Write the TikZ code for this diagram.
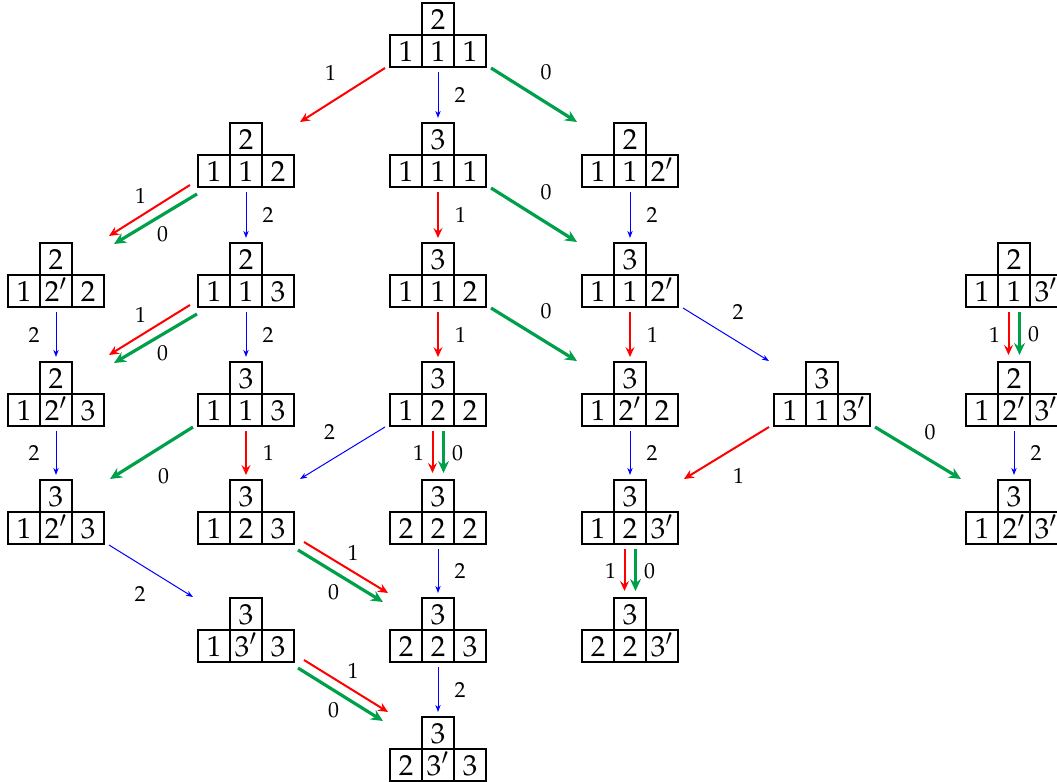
\documentclass[tikz,border=0pt]{standalone}
\usepackage[T1]{fontenc}
\usepackage{mathpazo}
\usetikzlibrary{arrows.meta,positioning}
\definecolor{grn}{RGB}{0,160,75}
\newcommand{\yt}[6]{%
  \node[frame] (#1) at #2 {};
  \node[cell,anchor=north] (#1t) at (#1.north) {$#3$};
  \node[cell,anchor=south] (#1m) at (#1.south) {$#5$};
  \node[cell,left=0pt of #1m] (#1l) {$#4$};
  \node[cell,right=0pt of #1m] (#1r) {$#6$};}
\begin{document}
\begin{tikzpicture}[x=0.5pt,y=-0.5pt,
  frame/.style={minimum width=48pt,minimum height=32pt,inner sep=0pt,outer sep=0pt},
  cell/.style={draw,line width=1.2pt,minimum size=16pt,inner sep=0pt,outer sep=0pt,
    text height=10pt,text depth=0pt,font=\fontsize{14.5}{17}\selectfont},
  lbl/.style={font=\fontsize{10.9}{13}\selectfont,inner sep=0pt},
  arr1/.style={draw=red,line width=1pt,-{Stealth[length=5pt,width=4.5pt,inset=1.8pt]}},
  arr0/.style={draw=grn,line width=1.6pt,-{Stealth[length=6pt,width=5.5pt,inset=2pt]}},
  arr2/.style={draw=blue,line width=0.5pt,-{Stealth[length=3.5pt,width=2.6pt,inset=1pt]}},
  vert/.style={shorten <=2.5pt,shorten >=2.5pt},
  vert2/.style={shorten <=2.5pt,shorten >=3.5pt}]
  \useasboundingbox (0,0) rectangle (1057,782);

  \yt{A}{(438,35)}{2}{1}{1}{1}
  \yt{B1}{(246,155)}{2}{1}{1}{2}
  \yt{B2}{(438,155)}{3}{1}{1}{1}
  \yt{B3}{(630,155)}{2}{1}{1}{2'}
  \yt{C1}{(56,275)}{2}{1}{2'}{2}
  \yt{C2}{(246,275)}{2}{1}{1}{3}
  \yt{C3}{(438,275)}{3}{1}{1}{2}
  \yt{C4}{(630,275)}{3}{1}{1}{2'}
  \yt{C5}{(1014,275)}{2}{1}{1}{3'}
  \yt{D1}{(56,394)}{2}{1}{2'}{3}
  \yt{D2}{(246,394)}{3}{1}{1}{3}
  \yt{D3}{(438,394)}{3}{1}{2}{2}
  \yt{D4}{(630,394)}{3}{1}{2'}{2}
  \yt{D5}{(822,394)}{3}{1}{1}{3'}
  \yt{D6}{(1014,394)}{2}{1}{2'}{3'}
  \yt{E1}{(56,512)}{3}{1}{2'}{3}
  \yt{E2}{(246,512)}{3}{1}{2}{3}
  \yt{E3}{(438,512)}{3}{2}{2}{2}
  \yt{E4}{(630,512)}{3}{1}{2}{3'}
  \yt{E5}{(1014,512)}{3}{1}{2'}{3'}
  \yt{F2}{(246,630)}{3}{1}{3'}{3}
  \yt{F3}{(438,630)}{3}{2}{2}{3}
  \yt{F4}{(630,630)}{3}{2}{2}{3'}
  \yt{G3}{(438,749)}{3}{2}{3'}{3}

  \draw[arr1] ([shift={(-5,1)}]A.south west) -- ([shift={(6,-1)}]B1.north east) node[lbl,midway,shift={(-12,-22)}] {1};
  \draw[arr2,vert] (A.south) -- (B2.north) node[lbl,midway,right=8pt] {2};
  \draw[arr0] ([shift={(5,1)}]A.south east) -- ([shift={(-5,-1)}]B3.north west) node[lbl,midway,shift={(12,-23)}] {0};

  \draw[arr1] ([shift={(-8,-2)}]B1.south west) -- ([shift={(5,-7)}]C1.north east) node[lbl,midway,shift={(-9,-15)}] {1};
  \draw[arr0] ([shift={(-1,7)}]B1.south west) -- ([shift={(10,1)}]C1.north east) node[lbl,midway,shift={(7,15)}] {0};
  \draw[arr2,vert] (B1.south) -- (C2.north) node[lbl,midway,right=8pt] {2};
  \draw[arr1,vert] (B2.south) -- (C3.north) node[lbl,midway,right=8pt] {1};
  \draw[arr0] ([shift={(5,1)}]B2.south east) -- ([shift={(-5,-1)}]C4.north west) node[lbl,midway,shift={(12,-23)}] {0};
  \draw[arr2,vert] (B3.south) -- (C4.north) node[lbl,midway,right=8pt] {2};

  \draw[arr2,vert] (C1.south) -- (D1.north) node[lbl,midway,left=8pt] {2};
  \draw[arr1] ([shift={(-8,-2)}]C2.south west) -- ([shift={(5,-7)}]D1.north east) node[lbl,midway,shift={(-9,-15)}] {1};
  \draw[arr0] ([shift={(-1,7)}]C2.south west) -- ([shift={(10,1)}]D1.north east) node[lbl,midway,shift={(7,15)}] {0};
  \draw[arr2,vert] (C2.south) -- (D2.north) node[lbl,midway,right=8pt] {2};
  \draw[arr1,vert] (C3.south) -- (D3.north) node[lbl,midway,right=8pt] {1};
  \draw[arr0] ([shift={(5,1)}]C3.south east) -- ([shift={(-5,-1)}]D4.north west) node[lbl,midway,shift={(12,-23)}] {0};
  \draw[arr1,vert] (C4.south) -- (D4.north) node[lbl,midway,right=8pt] {1};
  \draw[arr2] ([shift={(5,1)}]C4.south east) -- ([shift={(-5,-1)}]D5.north west) node[lbl,midway,shift={(12,-23)}] {2};
  \draw[arr1,vert2] ([xshift=-2.75pt]C5.south) -- ([xshift=-2.75pt]D6.north) node[lbl,midway,left=3.8pt] {1};
  \draw[arr0,vert2] ([xshift=2.75pt]C5.south) -- ([xshift=2.75pt]D6.north) node[lbl,midway,right=3.5pt] {0};

  \draw[arr2,vert] (D1.south) -- (E1.north) node[lbl,midway,left=8pt] {2};
  \draw[arr0] ([shift={(-5,1)}]D2.south west) -- ([shift={(6,-1)}]E1.north east) node[lbl,midway,shift={(12,23)}] {0};
  \draw[arr1,vert] (D2.south) -- (E2.north) node[lbl,midway,right=8pt] {1};
  \draw[arr2] ([shift={(-5,1)}]D3.south west) -- ([shift={(6,-1)}]E2.north east) node[lbl,midway,shift={(-13,-21)}] {2};
  \draw[arr1,vert2] ([xshift=-2.75pt]D3.south) -- ([xshift=-2.75pt]E3.north) node[lbl,midway,left=3.8pt] {1};
  \draw[arr0,vert2] ([xshift=2.75pt]D3.south) -- ([xshift=2.75pt]E3.north) node[lbl,midway,right=3.5pt] {0};
  \draw[arr2,vert] (D4.south) -- (E4.north) node[lbl,midway,right=8pt] {2};
  \draw[arr1] ([shift={(-5,1)}]D5.south west) -- ([shift={(6,-1)}]E4.north east) node[lbl,midway,shift={(12,23)}] {1};
  \draw[arr0] ([shift={(5,1)}]D5.south east) -- ([shift={(-5,-1)}]E5.north west) node[lbl,midway,shift={(12,-21)}] {0};
  \draw[arr2,vert] (D6.south) -- (E5.north) node[lbl,midway,right=8pt] {2};

  \draw[arr2] ([shift={(5,1)}]E1.south east) -- ([shift={(-5,-1)}]F2.north west) node[lbl,midway,shift={(-11,23)}] {2};
  \draw[arr1] ([shift={(10,-2)}]E2.south east) -- ([shift={(-2,-5)}]F3.north west) node[lbl,midway,shift={(7,-15)}] {1};
  \draw[arr0] ([shift={(4,6)}]E2.south east) -- ([shift={(-7,4)}]F3.north west) node[lbl,midway,shift={(-7,16)}] {0};
  \draw[arr2,vert] (E3.south) -- (F3.north) node[lbl,midway,right=8pt] {2};
  \draw[arr1,vert2] ([xshift=-2.75pt]E4.south) -- ([xshift=-2.75pt]F4.north) node[lbl,midway,left=3.8pt] {1};
  \draw[arr0,vert2] ([xshift=2.75pt]E4.south) -- ([xshift=2.75pt]F4.north) node[lbl,midway,right=3.5pt] {0};

  \draw[arr1] ([shift={(10,-2)}]F2.south east) -- ([shift={(-2,-5)}]G3.north west) node[lbl,midway,shift={(7,-15)}] {1};
  \draw[arr0] ([shift={(4,6)}]F2.south east) -- ([shift={(-7,4)}]G3.north west) node[lbl,midway,shift={(-7,16)}] {0};
  \draw[arr2,vert] (F3.south) -- (G3.north) node[lbl,midway,right=8pt] {2};
\end{tikzpicture}
\end{document}
